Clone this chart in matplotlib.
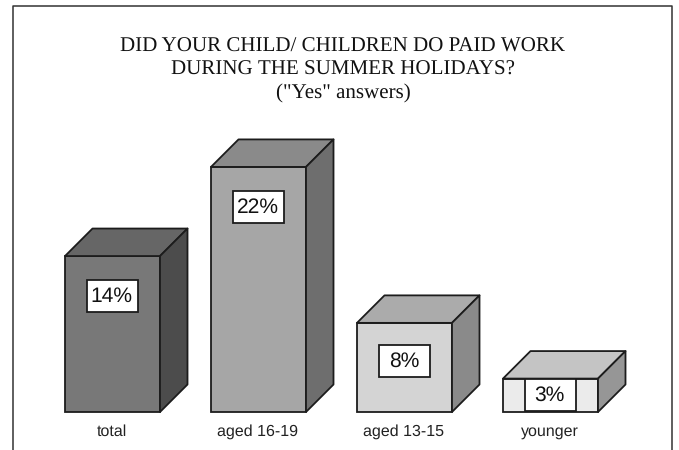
import matplotlib
matplotlib.use("Agg")
import matplotlib.pyplot as plt
from matplotlib.patches import Polygon, Rectangle

W, H = 679, 450

categories = ["total", "aged 16-19", "aged 13-15", "younger"]
values = [14, 22, 8, 3]

front_colors = ["#787878", "#a6a6a6", "#d4d4d4", "#ebebeb"]
top_colors = ["#666666", "#8a8a8a", "#ababab", "#c4c4c4"]
side_colors = ["#4c4c4c", "#6e6e6e", "#8a8a8a", "#969696"]
# how far each value box sits below the top of its bar, in percent units
box_drop = [2.15, 2.15, 2.0, 0.05]

title_lines = ["DID YOUR CHILD/ CHILDREN DO PAID WORK",
               "DURING THE SUMMER HOLIDAYS?",
               "(\"Yes\" answers)"]

PX_PER_PCT = 11.14
BAR_W = 95 / 146
DX = 27.5 / 146
DY = 27.5 / PX_PER_PCT
BOX_W = 51 / 146
BOX_H = 32 / PX_PER_PCT
EDGE = "#1c1c1c"

plt.rcParams["text.hinting"] = "no_hinting"
plt.rcParams["text.hinting_factor"] = 1

fig = plt.figure(figsize=(W / 100, H / 100), dpi=100)
fig.patch.set_facecolor("white")

# axes span the whole figure: x in category slots, y in percent with 0 at the bar base
ax = fig.add_axes([0, 0, 1, 1])
x0 = -(65 + 47.5) / 146
ax.set_xlim(x0, x0 + W / 146)
ax.set_ylim(-(H - 412) / PX_PER_PCT, 412 / PX_PER_PCT)
ax.axis("off")

for i, v in enumerate(values):
    l = i - BAR_W / 2
    r = i + BAR_W / 2
    ax.bar(i, v, width=BAR_W, color=front_colors[i], edgecolor=EDGE, linewidth=1.3, zorder=2)
    ax.add_patch(Polygon([(l, v), (l + DX, v + DY), (r + DX, v + DY), (r, v)],
                         facecolor=top_colors[i], edgecolor=EDGE, linewidth=1.3, joinstyle="round", zorder=2))
    ax.add_patch(Polygon([(r, 0), (r + DX, DY), (r + DX, v + DY), (r, v)],
                         facecolor=side_colors[i], edgecolor=EDGE, linewidth=1.3, joinstyle="round", zorder=2))

    # white value box
    by = v - box_drop[i] - BOX_H
    ax.add_patch(Rectangle((i - BOX_W / 2, by), BOX_W, BOX_H, facecolor="white",
                           edgecolor=EDGE, linewidth=1.3, zorder=3))
    ax.text(i - 0.005, by + BOX_H / 2 - 0.05, f"{v}%", ha="center", va="center", fontsize=15.3,
            family="Liberation Sans", color="#111111", zorder=4)

    ax.text(i - 0.005, -1.78, categories[i], ha="center", va="center", fontsize=11.6,
            family="Liberation Sans", color="#222222")

# outer frame, open at the bottom
fx = [12.5 / W, 12.5 / W, 671.5 / W, 671.5 / W]
fy = [0, 1 - 6 / H, 1 - 6 / H, 0]
fig.add_artist(plt.Line2D(fx, fy, color="#333333", linewidth=1.1))

for line, ypx in zip(title_lines, [47, 70, 93]):
    fig.text(343 / W, 1 - ypx / H, line, ha="center", va="center", fontsize=15.4,
             family="Liberation Serif", color="#111111")

fig.savefig("out.png", dpi=100)
